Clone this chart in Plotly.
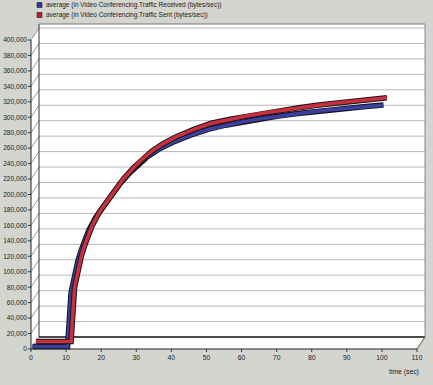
import plotly.graph_objects as go

# ---------------- data ----------------
time_sec = [0, 10, 11, 12, 13, 14, 15, 16, 18, 20, 22, 25, 28, 30, 33, 36, 40, 45,
            50, 55, 60, 65, 70, 75, 80, 85, 90, 95, 100]
received = [0, 0, 70000, 93000, 112000, 126000, 139000, 150000, 167000, 180000,
            192000, 211000, 226000, 235000, 246500, 255500, 264500, 273500, 281000,
            286500, 291000, 294800, 298200, 301300, 304000, 306500, 308800, 310800, 312500]
sent = [0, 0, 70000, 93000, 112000, 126000, 139000, 150000, 167000, 180000,
        192000, 211000, 226000, 235000, 246500, 255500, 265200, 274600, 282500,
        287600, 291800, 295800, 299400, 302700, 305700, 308400, 310900, 313300, 315500]
series_names = ["average (in Video Conferencing.Traffic Received (bytes/sec))",
                "average (in Video Conferencing.Traffic Sent (bytes/sec))"]
x_ticks = list(range(0, 111, 10))
y_ticks = list(range(0, 400001, 20000))
x_title = "time (sec)"

# ---------------- geometry / style ----------------
W, H = 433, 385
X0PX, XPX = 31, 386 / 110          # pixel of t=0, pixels per second
Y0PX, YPX = 349, 309 / 400000      # pixel of 0, pixels per unit
L, R, T, B = 28, 427, 22, 352      # plot area in pixels


def xv(px):
    return (px - X0PX) / XPX


def yv(py):
    return (Y0PX - py) / YPX


DX = 8 / XPX      # depth offset of the back wall
DY = 12 / YPX
XB = x_ticks[-1] + DX
YB = yv(24)

BG = "#d4d5cf"
FONT = "Liberation Sans Narrow, Arial Narrow, Liberation Sans, Arial, sans-serif"
BLUE = "#3b3f9e"
RED = "#c9303d"
EDGE = "#14141c"

fig = go.Figure()

# series drawn on depth-shifted overlay axes (pseudo-3D ribbons)
series = [
    (sent, series_names[1], RED, "x3", "y3"),
    (received, series_names[0], BLUE, "x2", "y2"),
]
for vals, name, col, xa, ya in series:
    fig.add_trace(go.Scatter(x=time_sec, y=vals, mode="lines", xaxis=xa, yaxis=ya,
                             line=dict(color=EDGE, width=5.5), showlegend=False,
                             hoverinfo="skip"))
    fig.add_trace(go.Scatter(x=time_sec, y=vals, mode="lines", name=name,
                             xaxis=xa, yaxis=ya,
                             line=dict(color=col, width=3.6), showlegend=False))

shapes = []
# white chart body (front axes + back wall)
path = (f"M 0,0 L 0,{y_ticks[-1]} L {DX},{y_ticks[-1] + DY} L {DX},{YB} "
        f"L {XB},{YB} L {XB},{DY} L {x_ticks[-1]},0 Z")
shapes.append(dict(type="path", path=path, xref="x", yref="y", fillcolor="white",
                   line=dict(width=0), layer="below"))
# back-wall gridlines
for v in y_ticks[1:]:
    shapes.append(dict(type="line", xref="x", yref="y", x0=DX, x1=XB, y0=v + DY, y1=v + DY,
                       line=dict(color="#b8b8b8", width=1), layer="below"))
# side-wall diagonals
for v in y_ticks:
    shapes.append(dict(type="line", xref="x", yref="y", x0=0, x1=DX, y0=v, y1=v + DY,
                       line=dict(color="#9a9a9a", width=1), layer="below"))
# back wall edges
shapes.append(dict(type="line", xref="x", yref="y", x0=DX, x1=XB, y0=DY, y1=DY,
                   line=dict(color="#111", width=1.3), layer="below"))
shapes.append(dict(type="line", xref="x", yref="y", x0=DX, x1=DX, y0=DY, y1=YB,
                   line=dict(color="#333", width=1), layer="below"))
shapes.append(dict(type="line", xref="x", yref="y", x0=DX, x1=XB, y0=YB, y1=YB,
                   line=dict(color="#777", width=1), layer="below"))
shapes.append(dict(type="line", xref="x", yref="y", x0=XB, x1=XB, y0=DY, y1=YB,
                   line=dict(color="#888", width=1), layer="below"))
shapes.append(dict(type="line", xref="x", yref="y", x0=x_ticks[-1], x1=XB, y0=0, y1=DY,
                   line=dict(color="#555", width=1), layer="below"))
# front axes
shapes.append(dict(type="line", xref="x", yref="y", x0=0, x1=0, y0=0, y1=y_ticks[-1],
                   line=dict(color="#222", width=1), layer="below"))
shapes.append(dict(type="line", xref="x", yref="y", x0=0, x1=x_ticks[-1], y0=0, y1=0,
                   line=dict(color="#222", width=1.2), layer="below"))
# tick marks
for v in y_ticks:
    shapes.append(dict(type="line", xref="x", yref="y", x0=xv(27.5), x1=0, y0=v, y1=v,
                       line=dict(color="#333", width=1), layer="below"))
for t in x_ticks:
    shapes.append(dict(type="line", xref="x", yref="y", x0=t, x1=t, y0=0, y1=yv(352.5),
                       line=dict(color="#333", width=1), layer="below"))


def pxp(px):
    return (px - L) / (R - L)


def pyp(py):
    return (B - py) / (B - T)


annotations = []
legend_cols = ["#3434b4", "#c41a2a"]
for i, (name, col) in enumerate(zip(series_names, legend_cols)):
    cy = 5 + 10 * i
    shapes.append(dict(type="rect", xref="paper", yref="paper",
                       x0=pxp(37), x1=pxp(42), y0=pyp(cy + 2.5), y1=pyp(cy - 2.5),
                       fillcolor=col, line=dict(color="#222", width=0.6)))
    annotations.append(dict(text=name, xref="paper", yref="paper", x=pxp(44), y=pyp(cy),
                            xanchor="left", yanchor="middle", showarrow=False,
                            font=dict(family=FONT, size=6.5, color="#1a1a1a")))
annotations.append(dict(text=x_title, xref="paper", yref="paper", x=pxp(404), y=pyp(372),
                        xanchor="center", yanchor="middle", showarrow=False,
                        font=dict(family=FONT, size=6.8, color="#1a1a1a")))

xr = [xv(L), xv(R)]
yr = [yv(B), yv(T)]


def shifted(rng, d):
    return [rng[0] - d, rng[1] - d]


fig.update_layout(
    template="none",
    width=W, height=H,
    margin=dict(l=L, r=W - R, t=T, b=H - B, pad=0, autoexpand=False),
    paper_bgcolor=BG, plot_bgcolor=BG,
    showlegend=False, hovermode=False,
    font=dict(family=FONT, size=6.5, color="#222"),
    xaxis=dict(range=xr, tickmode="array", tickvals=x_ticks, ticks="", showgrid=False,
               zeroline=False, showline=False, tickfont=dict(size=6.8, color="#222"),
               fixedrange=True, automargin=False),
    yaxis=dict(range=yr, tickmode="array", tickvals=y_ticks, tickformat=",d", ticks="",
               showgrid=False, zeroline=False, showline=False,
               tickfont=dict(size=6.6, color="#222"), fixedrange=True, automargin=False),
    xaxis2=dict(overlaying="x", range=shifted(xr, 1.5 / XPX), visible=False),
    yaxis2=dict(overlaying="y", range=shifted(yr, 2.5 / YPX), visible=False),
    xaxis3=dict(overlaying="x", range=shifted(xr, 5 / XPX), visible=False),
    yaxis3=dict(overlaying="y", range=shifted(yr, 7.5 / YPX), visible=False),
    shapes=shapes,
    annotations=annotations,
)

fig.write_html("out.html", config={"displayModeBar": False},
               post_script="document.body.style.margin='0';")
